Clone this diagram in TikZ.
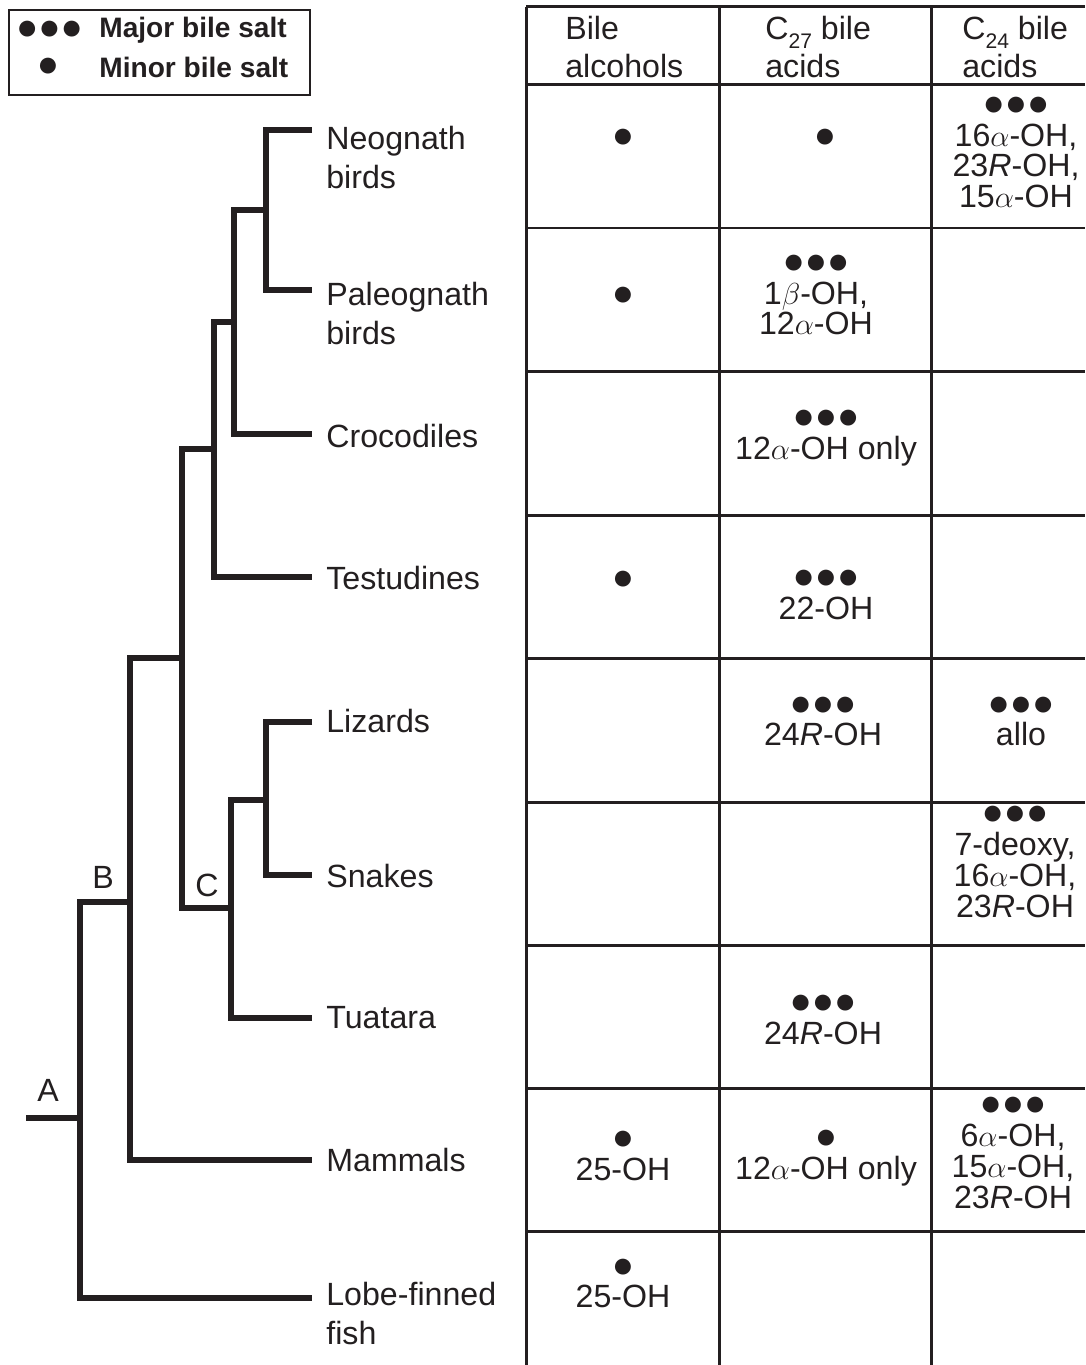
\documentclass[tikz,border=0pt]{standalone}
\usepackage{fontspec}
\setmainfont{Liberation Sans}
\newfontfamily\dotfont{Liberation Sans}
\usetikzlibrary{positioning}

\newcommand{\taxfont}{\fontsize{18.3}{22.1}\selectfont}
\newcommand{\cellfont}{\fontsize{18.3}{17.6}\selectfont}
\newcommand{\majdot}{{\dotfont\fontsize{21}{17.6}\selectfont ●●●}}
\newcommand{\mindot}{{\dotfont\fontsize{21}{17.6}\selectfont ●}}
\newcommand{\csub}[1]{\raisebox{-0.55ex}{\fontsize{12}{12}\selectfont #1}}

\begin{document}
\begin{tikzpicture}[x=0.02cm, y=-0.02cm]

\definecolor{my_black}{RGB}{35,31,32}

\tikzstyle{branch} = [draw=my_black, line width=0.11cm]
\tikzstyle{grid} = [draw=my_black, line width=0.06cm]
\tikzstyle{taxon} = [anchor=west, align=left, inner sep=0pt, font=\taxfont, text=my_black]
\tikzstyle{clade} = [inner sep=0pt, font=\taxfont, text=my_black]
\tikzstyle{head} = [anchor=west, align=left, inner sep=0pt, font=\fontsize{18.3}{21.8}\selectfont, text=my_black]
\tikzstyle{cell} = [align=center, inner sep=0pt, font=\cellfont, text=my_black]
\tikzstyle{legtext} = [anchor=west, inner sep=0pt, font=\fontsize{16}{19}\selectfont\bfseries, text=my_black]

\useasboundingbox (0,0) rectangle (1085,1365);

% legend
\node[draw=my_black, line width=0.04cm, minimum width=6.02cm, minimum height=1.7cm] (legend) at (159.5,52.5) {};
\node[cell] (maj_dot) at (49.5,30) {\majdot};
\node[legtext] (maj_txt) at (99,30) {Major bile salt};
\node[cell] (min_dot) at (48,67) {\mindot};
\node[legtext] (min_txt) at (99,67) {Minor bile salt};

% tree
\coordinate (tneo) at (312,130);
\coordinate (tpal) at (312,290);
\coordinate (tcro) at (312,434);
\coordinate (ttes) at (312,577);
\coordinate (tliz) at (312,722);
\coordinate (tsna) at (312,875);
\coordinate (ttua) at (312,1018);
\coordinate (tmam) at (312,1160);
\coordinate (tlob) at (312,1298);

\coordinate (birds) at (266,210);
\coordinate (archo) at (234,322);
\coordinate (archel) at (214,449);
\coordinate (sauria) at (182,658);
\coordinate (squam) at (266,800);
\coordinate (lepido) at (231,908);
\coordinate (amnio) at (130,902);
\coordinate (tetra) at (80,1118);
\coordinate (root) at (26,1118);

\draw [branch] (tneo) -| (birds) |- (tpal);
\draw [branch] (birds) -| (archo) |- (tcro);
\draw [branch] (archo) -| (archel) |- (ttes);
\draw [branch] (archel) -| (sauria);
\draw [branch] (tliz) -| (squam) |- (tsna);
\draw [branch] (squam) -| (lepido) |- (ttua);
\draw [branch] (lepido) -| (sauria);
\draw [branch] (sauria) -| (amnio) |- (tmam);
\draw [branch] (amnio) -| (tetra) |- (tlob);
\draw [branch] (root) -- (tetra);

\node[clade] (lab_a) at (48,1090) {A};
\node[clade] (lab_b) at (103,877) {B};
\node[clade] (lab_c) at (207,885) {C};

\node[taxon] (neo) at (326,157.5) {Neognath\\birds};
\node[taxon] (pal) at (326,313.5) {Paleognath\\birds};
\node[taxon] (cro) at (326,436) {Crocodiles};
\node[taxon] (tes) at (326,578) {Testudines};
\node[taxon] (liz) at (326,721) {Lizards};
\node[taxon] (sna) at (326,876) {Snakes};
\node[taxon] (tua) at (326,1018) {Tuatara};
\node[taxon] (mam) at (326,1160) {Mammals};
\node[taxon] (lob) at (326,1313.5) {Lobe-finned\\fish};

% table
\foreach \y in {7,85,228,371,515,658,802,945,1088,1231}
	\draw [grid] (526,\y) -- (1085,\y);
\foreach \x in {526,719,931}
	\draw [grid] (\x,7) -- (\x,1365);

\node[head] (h_alc) at (565,47) {Bile\\alcohols};
\node[head] (h_c27) at (765,47) {C\csub{27} bile\\acids};
\node[head] (h_c24) at (962,47) {C\csub{24} bile\\acids};

\node[cell] (neo_alc) at (623,138) {\mindot};
\node[cell] (neo_c27) at (825,138) {\mindot};
\node[cell] (neo_c24) at (1016,152.5) {\majdot\\16$\alpha$-OH,\\23\textit{R}-OH,\\15$\alpha$-OH};

\node[cell] (pal_alc) at (623,296) {\mindot};
\node[cell] (pal_c27) at (816,295) {\majdot\\1$\beta$-OH,\\12$\alpha$-OH};

\node[cell] (cro_c27) at (826,438) {\majdot\\12$\alpha$-OH only};

\node[cell] (tes_alc) at (623,580) {\mindot};
\node[cell] (tes_c27) at (826,595) {\majdot\\22-OH};

\node[cell] (liz_c27) at (823,721.5) {\majdot\\24\textit{R}-OH};
\node[cell] (liz_c24) at (1021,721.5) {\majdot\\allo};

\node[cell] (sna_c24) at (1015,862) {\majdot\\7-deoxy,\\16$\alpha$-OH,\\23\textit{R}-OH};

\node[cell] (tua_c27) at (823,1020) {\majdot\\24\textit{R}-OH};

\node[cell] (mam_alc) at (623,1156) {\mindot\\25-OH};
\node[cell] (mam_c27) at (826,1158.5) {\mindot\\12$\alpha$-OH only};
\node[cell] (mam_c24) at (1013,1153) {\majdot\\6$\alpha$-OH,\\15$\alpha$-OH,\\23\textit{R}-OH};

\node[cell] (lob_alc) at (623,1283.5) {\mindot\\25-OH};

\end{tikzpicture}
\end{document}
